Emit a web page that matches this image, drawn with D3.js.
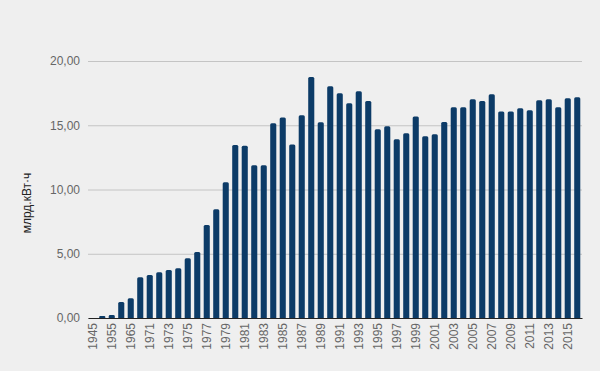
<!DOCTYPE html>
<html>
<head>
<meta charset="utf-8">
<script src="https://d3js.org/d3.v7.min.js"></script>
<style>
  body { margin: 0; background: #efefef; }
  svg { display: block; font-family: "Liberation Sans", Arial, sans-serif; }
</style>
</head>
<body>
<div class="chart"></div>
<script>
// years on the x axis (1945..1970 by five, then every year)
const years = ["1945", "1950", "1955", "1960", "1965", "1970"]
  .concat(d3.range(1971, 2017).map(String));

// generation, bn kWh
const values = [
  0, 0.15, 0.23, 1.25, 1.53, 3.17,
  3.35, 3.56, 3.74, 3.87, 4.65, 5.14, 7.24, 8.46, 10.57, 13.47,
  13.4, 11.89, 11.89, 15.16, 15.6, 13.5, 15.78, 18.75, 15.24, 18.04,
  17.5, 16.72, 17.65, 16.88, 14.69, 14.93, 13.92, 14.38, 15.68, 14.15,
  14.3, 15.26, 16.4, 16.4, 17.03, 16.88, 17.42, 16.07, 16.07, 16.33,
  16.17, 16.95, 17.03, 16.4, 17.1, 17.18
];

const yTicks = [0, 5, 10, 15, 20];
const yTitle = "млрд.кВт·ч";

const data = years.map((y, i) => ({ year: y, value: values[i] }));

const width = 600, height = 371;
const margin = { left: 88, right: 18, top: 61, bottom: 53 };

const svg = d3.select(".chart").append("svg")
  .attr("width", width)
  .attr("height", height);

svg.append("rect")
  .attr("width", width)
  .attr("height", height)
  .attr("fill", "#efefef");

const x = d3.scaleBand()
  .domain(years)
  .range([margin.left, width - margin.right])
  .paddingInner(0.36)
  .paddingOuter(0.18);

const y = d3.scaleLinear()
  .domain([0, 20])
  .range([height - margin.bottom, margin.top]);

// grid + y labels
const yAxis = svg.append("g")
  .attr("transform", `translate(${margin.left},0)`)
  .call(d3.axisLeft(y)
    .tickValues(yTicks)
    .tickSize(-(width - margin.left - margin.right))
    .tickPadding(8)
    .tickFormat(d => d3.format(".2f")(d).replace(".", ",")));
yAxis.select(".domain").remove();
yAxis.selectAll(".tick line").attr("stroke", "#c4c4c4");
yAxis.selectAll(".tick text")
  .attr("fill", "#666")
  .attr("font-size", 12)
  .attr("font-family", "Liberation Sans, Arial, sans-serif");

// bars
svg.selectAll("path.bar")
  .data(data.filter(d => d.value > 0))
  .enter()
  .append("path")
  .attr("class", "bar")
  .attr("fill", "#0c3b67")
  .attr("d", d => {
    const x0 = x(d.year), w = x.bandwidth();
    const y0 = y(0), y1 = y(d.value);
    const r = Math.min(1.5, (y0 - y1) / 2);
    return `M${x0},${y0} V${y1 + r} Q${x0},${y1} ${x0 + r},${y1} H${x0 + w - r} Q${x0 + w},${y1} ${x0 + w},${y1 + r} V${y0} Z`;
  });

// x axis
const xAxis = svg.append("g")
  .attr("transform", `translate(0,${y(0)})`)
  .call(d3.axisBottom(x)
    .tickValues(years.filter((d, i) => i % 2 === 0))
    .tickSize(0)
    .tickPadding(0));
xAxis.select(".domain").attr("stroke", "#222").attr("stroke-width", 1.2);
xAxis.selectAll(".tick text")
  .attr("fill", "#666")
  .attr("font-size", 12)
  .attr("font-family", "Liberation Sans, Arial, sans-serif")
  .attr("text-anchor", "end")
  .attr("dy", "0.35em")
  .attr("transform", "translate(0,5) rotate(-90)");

// y title
svg.append("text")
  .attr("transform", `translate(31,203) rotate(-90)`)
  .attr("text-anchor", "middle")
  .attr("font-size", 12)
  .attr("fill", "#222")
  .text(yTitle);
</script>
</body>
</html>
